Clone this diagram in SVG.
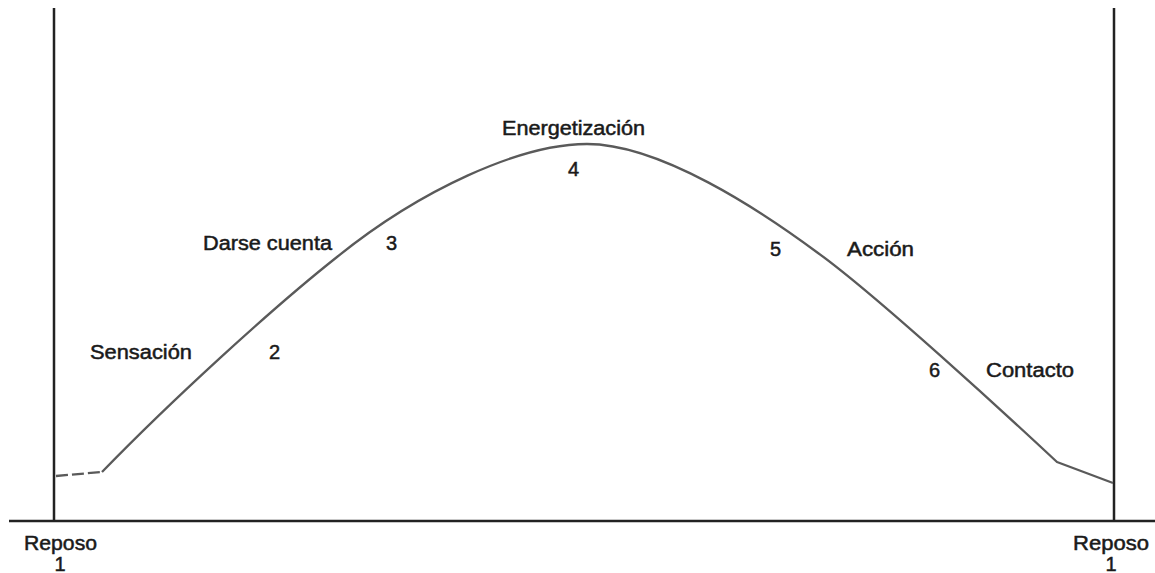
<svg xmlns="http://www.w3.org/2000/svg" width="1155" height="573" viewBox="0 0 1155 573">
  <style>
    .lbl { font-family: "Liberation Sans", Arial, sans-serif; font-size: 20px; fill: #1a1a1a; stroke: #1a1a1a; stroke-width: 0.5; }
    .axis { stroke: #222; stroke-width: 2.5; fill: none; }
    .curve { stroke: #5a5a5a; stroke-width: 2.3; fill: none; stroke-linejoin: round; }
  </style>
  <rect width="1155" height="573" fill="#ffffff"/>
  <g id="connectors">
    <line class="axis" x1="54" y1="8" x2="54" y2="522"/>
    <line class="axis" x1="1114" y1="8" x2="1114" y2="522" stroke="#444"/>
    <line class="axis" x1="9" y1="521" x2="1155" y2="521"/>
    <line class="curve" x1="56" y1="476" x2="102" y2="472" stroke-dasharray="12 4"/>
    <path class="curve" d="M102,472 C170,402 270,310 337,257 C420,190 520,144 587,144 C660,144 760,210 818,253 C875,294 1010,418 1057,462 L1113,483"/>
  </g>
  <g id="reposo-left"><text class="lbl" x="24" y="550" textLength="73" lengthAdjust="spacingAndGlyphs">Reposo</text><text class="lbl" x="60" y="571" text-anchor="middle" font-size="18">1</text></g>
  <g id="reposo-right"><text class="lbl" x="1073" y="550" textLength="76" lengthAdjust="spacingAndGlyphs">Reposo</text><text class="lbl" x="1111" y="571" text-anchor="middle" font-size="18">1</text></g>
  <g id="sensacion"><text class="lbl" x="90" y="359" textLength="102" lengthAdjust="spacingAndGlyphs">Sensación</text><text class="lbl" x="269" y="359">2</text></g>
  <g id="darse-cuenta"><text class="lbl" x="203" y="250" textLength="129" lengthAdjust="spacingAndGlyphs">Darse cuenta</text><text class="lbl" x="386" y="250">3</text></g>
  <g id="energetizacion"><text class="lbl" x="502" y="135" textLength="143" lengthAdjust="spacingAndGlyphs">Energetización</text><text class="lbl" x="568" y="176">4</text></g>
  <g id="accion"><text class="lbl" x="770" y="256">5</text><text class="lbl" x="847" y="256" textLength="67" lengthAdjust="spacingAndGlyphs">Acción</text></g>
  <g id="contacto"><text class="lbl" x="929" y="377">6</text><text class="lbl" x="986" y="377" textLength="88" lengthAdjust="spacingAndGlyphs">Contacto</text></g>
</svg>
